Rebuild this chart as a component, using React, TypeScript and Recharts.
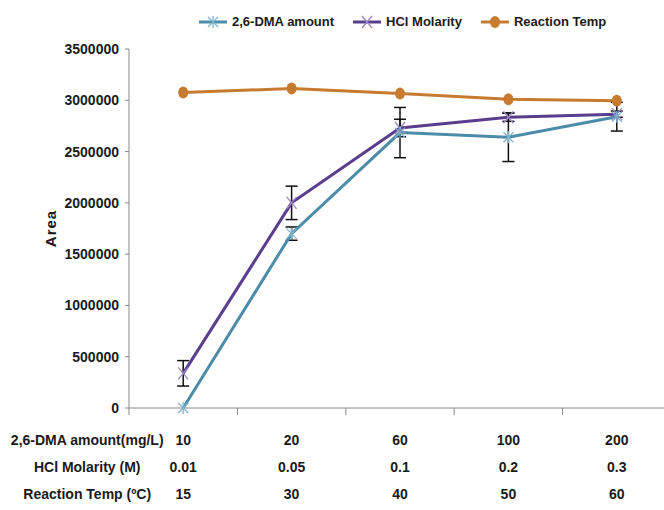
import React from "react";
import { LineChart, Line, XAxis, YAxis, ErrorBar, Legend } from "recharts";

const dmaLabels = ["10", "20", "60", "100", "200"];
const hclLabels = ["0.01", "0.05", "0.1", "0.2", "0.3"];
const tempLabels = ["15", "30", "40", "50", "60"];
const rowLabels = ["2,6-DMA amount(mg/L)", "HCl Molarity (M)", "Reaction Temp (ºC)"];

const dmaValues = [0, 1700000, 2685000, 2640000, 2840000];
const dmaErrors = [0, 65000, 245000, 237000, 140000];
const hclValues = [338000, 2000000, 2730000, 2835000, 2865000];
const hclErrors = [124000, 163000, 85000, 40000, 30000];
const tempValues = [3075000, 3115000, 3065000, 3010000, 2995000];

const yTicks = [0, 500000, 1000000, 1500000, 2000000, 2500000, 3000000, 3500000];
const xTicks = [0, 0.5, 1, 1.5, 2, 2.5, 3, 3.5, 4, 4.5, 5];

const data = dmaLabels.map((_, i) => ({
  x: i + 0.5,
  dma: dmaValues[i],
  dmaErr: dmaErrors[i],
  hcl: hclValues[i],
  hclErr: hclErrors[i],
  temp: tempValues[i],
}));

const FONT = "'Liberation Sans', Arial, sans-serif";
const AXIS = "#8a8a8a";
const DMA_COLOR = "#4b8ca8";
const DMA_MARK = "#7db4cd";
const HCL_COLOR = "#5b3d8e";
const HCL_MARK = "#9c88c4";
const TEMP_COLOR = "#c67b30";

const StarDot = (props: any) => {
  const { cx, cy } = props;
  if (cx == null || cy == null) return null;
  const r = 5;
  return (
    <g stroke={DMA_MARK} strokeWidth={1.3}>
      <line x1={cx - r} y1={cy - r} x2={cx + r} y2={cy + r} />
      <line x1={cx - r} y1={cy + r} x2={cx + r} y2={cy - r} />
      <line x1={cx} y1={cy - r - 1} x2={cx} y2={cy + r + 1} />
    </g>
  );
};

const XDot = (props: any) => {
  const { cx, cy } = props;
  if (cx == null || cy == null) return null;
  const r = 5;
  return (
    <g stroke={HCL_MARK} strokeWidth={1.3}>
      <line x1={cx - r} y1={cy - r - 1} x2={cx + r} y2={cy + r + 1} />
      <line x1={cx - r} y1={cy + r + 1} x2={cx + r} y2={cy - r - 1} />
    </g>
  );
};

const CircleDot = (props: any) => {
  const { cx, cy } = props;
  if (cx == null || cy == null) return null;
  return <ellipse cx={cx} cy={cy} rx={5} ry={6} fill={TEMP_COLOR} />;
};

const CategoryTick = (props: any) => {
  const { x, y, payload } = props;
  const v = payload.value;
  if (Number.isInteger(v)) {
    return <line x1={x} y1={y} x2={x} y2={y + 7} stroke={AXIS} strokeWidth={1} />;
  }
  const index = Math.floor(v);
  const rows = [dmaLabels, hclLabels, tempLabels];
  const offsets = [32, 59, 86];
  return (
    <g>
      {rows.map((r, k) => (
        <text
          key={k}
          x={x}
          y={y + offsets[k]}
          textAnchor="middle"
          dominantBaseline="central"
          fontFamily={FONT}
          fontWeight="bold"
          fontSize={14}
          fill="#1a1a1a"
        >
          {r[index]}
        </text>
      ))}
      {index === 0 &&
        rowLabels.map((t, k) => (
          <text
            key={"l" + k}
            x={x - 96}
            y={y + offsets[k]}
            textAnchor="middle"
            dominantBaseline="central"
            fontFamily={FONT}
            fontWeight="bold"
            fontSize={14}
            fill="#1a1a1a"
          >
            {t}
          </text>
        ))}
    </g>
  );
};

const legendItems = [
  { name: "2,6-DMA amount", color: DMA_COLOR, kind: "star" },
  { name: "HCl Molarity", color: HCL_COLOR, kind: "x" },
  { name: "Reaction Temp", color: TEMP_COLOR, kind: "circle" },
];

const LegendContent = () => (
  <div style={{ display: "flex", justifyContent: "flex-start", alignItems: "center", paddingLeft: 199, fontFamily: FONT, fontWeight: "bold", fontSize: 13, color: "#1a1a1a" }}>
    {legendItems.map((it) => (
      <div key={it.name} style={{ display: "flex", alignItems: "center", marginRight: 19 }}>
        <svg width={28} height={14} style={{ marginRight: 5 }}>
          <line x1={0} y1={7} x2={28} y2={7} stroke={it.color} strokeWidth={3} />
          {it.kind === "star" && (
            <g stroke={DMA_MARK} strokeWidth={1.3}>
              <line x1={9} y1={2} x2={19} y2={12} />
              <line x1={9} y1={12} x2={19} y2={2} />
              <line x1={14} y1={1} x2={14} y2={13} />
            </g>
          )}
          {it.kind === "x" && (
            <g stroke={HCL_MARK} strokeWidth={1.3}>
              <line x1={9} y1={1} x2={19} y2={13} />
              <line x1={9} y1={13} x2={19} y2={1} />
            </g>
          )}
          {it.kind === "circle" && <ellipse cx={14} cy={7} rx={5} ry={6} fill={TEMP_COLOR} />}
        </svg>
        <span>{it.name}</span>
      </div>
    ))}
  </div>
);

export default function App() {
  return (
    <div style={{ position: "absolute", left: 0, top: 0, width: 664, height: 510, overflow: "hidden", background: "#fff" }}>
      <LineChart width={680} height={510} data={data} margin={{ top: 19, right: 9, left: 0, bottom: 0 }}>
        <Legend verticalAlign="top" height={30} content={<LegendContent />} wrapperStyle={{ top: 14, left: 0, width: 680 }} />
        <XAxis
          type="number"
          dataKey="x"
          domain={[0, 5]}
          ticks={xTicks}
          tickLine={false}
          tickSize={0}
          tickMargin={0}
          tick={<CategoryTick />}
          height={102}
          stroke={AXIS}
          interval={0}
        />
        <YAxis
          type="number"
          domain={[0, 3500000]}
          ticks={yTicks}
          width={129}
          tickSize={4}
          tickMargin={6}
          stroke={AXIS}
          interval={0}
          tick={{ fontFamily: FONT, fontWeight: "bold", fontSize: 14, fill: "#1a1a1a" }}
          label={{ value: "Area", angle: -90, position: "center", dx: -14, style: { fontFamily: FONT, fontWeight: "bold", fontSize: 15, fill: "#1a1a1a", letterSpacing: 1 } }}
        />
        <Line type="linear" dataKey="temp" stroke={TEMP_COLOR} strokeWidth={3} dot={<CircleDot />} activeDot={false} isAnimationActive={false} />
        <Line type="linear" dataKey="hcl" stroke={HCL_COLOR} strokeWidth={3} dot={<XDot />} activeDot={false} isAnimationActive={false}>
          <ErrorBar dataKey="hclErr" direction="y" width={6} stroke="#111" strokeWidth={1.5} />
        </Line>
        <Line type="linear" dataKey="dma" stroke={DMA_COLOR} strokeWidth={3} dot={<StarDot />} activeDot={false} isAnimationActive={false}>
          <ErrorBar dataKey="dmaErr" direction="y" width={6} stroke="#111" strokeWidth={1.5} />
        </Line>
      </LineChart>
    </div>
  );
}
